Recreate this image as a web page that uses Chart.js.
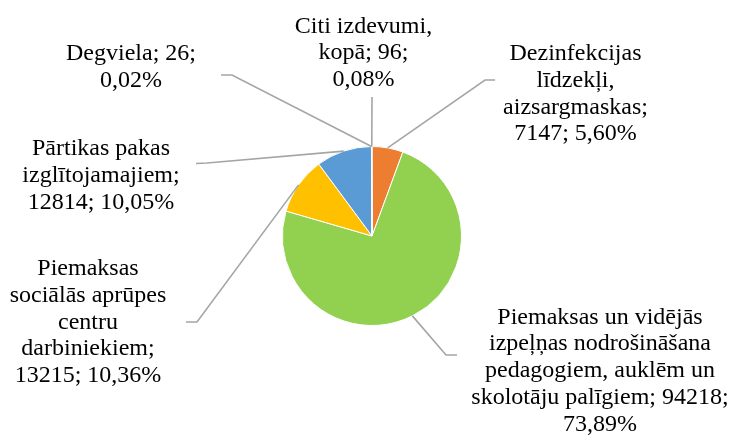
<!DOCTYPE html>
<html>
<head>
<meta charset="utf-8">
<script src="https://cdn.jsdelivr.net/npm/chart.js@4"></script>
<style>
html,body{margin:0;padding:0;background:#fff;}
#wrap{width:731px;height:435px;}
</style>
</head>
<body>
<div id="wrap"><canvas id="c" width="731" height="435"></canvas></div>
<script>
// ---- data ----
const categories = [
  "Dezinfekcijas līdzekļi, aizsargmaskas",
  "Piemaksas un vidējās izpeļņas nodrošināšana pedagogiem, auklēm un skolotāju palīgiem",
  "Piemaksas sociālās aprūpes centru darbiniekiem",
  "Pārtikas pakas izglītojamajiem",
  "Degviela",
  "Citi izdevumi, kopā"
];
const values = [7147, 94218, 13215, 12814, 26, 96];
const colors = ["#ED7D31", "#92D050", "#FFC000", "#5B9BD5", "#A5A5A5", "#264478"];
// words per wrapped label line
const wrapWords = [[1,1,1,2],[3,2,3,3,1],[1,2,1,1,2],[2,1,2],[2,1],[2,2,1]];

// ---- label layout (text centre x, first baseline y, leader elbow, leader end) ----
const labelLayout = [
  {cx: 575.5, y: 60,   elbow: [485, 80],   end: [495, 80]},
  {cx: 600,   y: 323.5, elbow: [446, 355], end: [457, 355]},
  {cx: 88,    y: 275,  elbow: [197, 322],  end: [186, 322]},
  {cx: 101,   y: 155,  elbow: [207, 163],  end: [196, 163.5]},
  {cx: 131,   y: 60,   elbow: [232, 75],   end: [221, 75]},
  {cx: 363.5, y: 32.5, elbow: [372, 97],   end: [372, 97]}
];
const lineHeight = 26.8;

const total = values.reduce((a, b) => a + b, 0);
function labelLines(i) {
  const pct = (values[i] / total * 100).toFixed(2).replace('.', ',') + '%';
  const words = (categories[i] + '; ' + values[i] + '; ' + pct).split(' ');
  const lines = [];
  let k = 0;
  for (const n of wrapWords[i]) { lines.push(words.slice(k, k + n).join(' ')); k += n; }
  return lines;
}

const labelPlugin = {
  id: 'pieLabels',
  afterDatasetsDraw(chart, args, opts) {
    const ctx = chart.ctx;
    const meta = chart.getDatasetMeta(0);
    ctx.save();
    meta.data.forEach((arc, i) => {
      const p = arc.getProps(['x', 'y', 'startAngle', 'endAngle', 'outerRadius'], true);
      const mid = (p.startAngle + p.endAngle) / 2;
      const ex = p.x + Math.cos(mid) * p.outerRadius;
      const ey = p.y + Math.sin(mid) * p.outerRadius;
      const L = opts.layout[i];
      ctx.strokeStyle = '#A5A5A5';
      ctx.lineWidth = 1.6;
      ctx.beginPath();
      ctx.moveTo(ex, ey);
      ctx.lineTo(L.elbow[0], L.elbow[1]);
      ctx.lineTo(L.end[0], L.end[1]);
      ctx.stroke();
    });
    ctx.fillStyle = '#000';
    ctx.font = '24px "Liberation Serif", "Times New Roman", serif';
    ctx.textAlign = 'center';
    ctx.textBaseline = 'alphabetic';
    meta.data.forEach((arc, i) => {
      const L = opts.layout[i];
      labelLines(i).forEach((t, j) => ctx.fillText(t, L.cx, L.y + j * lineHeight));
    });
    ctx.restore();
  }
};

new Chart(document.getElementById('c'), {
  type: 'pie',
  data: {
    labels: categories,
    datasets: [{
      data: values,
      backgroundColor: colors,
      borderColor: '#FFFFFF',
      borderWidth: 1
    }]
  },
  options: {
    responsive: false,
    animation: false,
    layout: {padding: {top: 146, bottom: 109, left: 13, right: 0}},
    plugins: {
      legend: {display: false},
      tooltip: {enabled: false},
      pieLabels: {layout: labelLayout}
    }
  },
  plugins: [labelPlugin]
});
</script>
</body>
</html>
